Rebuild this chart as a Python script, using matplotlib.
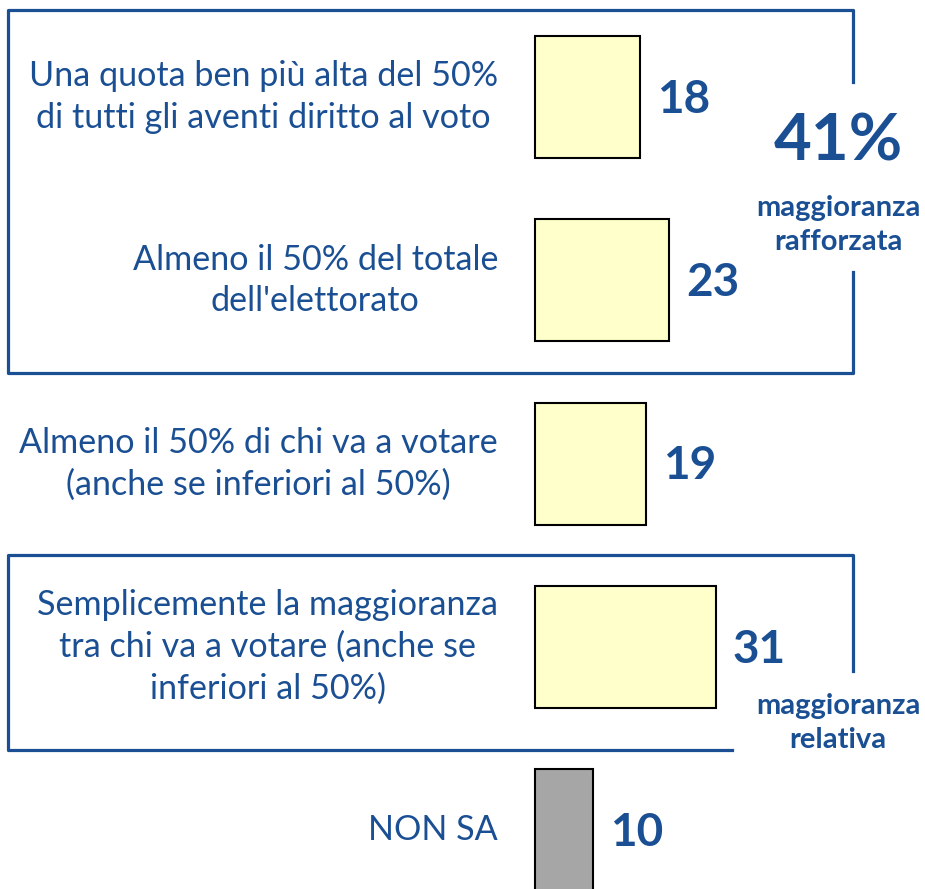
import matplotlib.pyplot as plt
from matplotlib.lines import Line2D

# dati
categorie = [
    "Una quota ben più alta del 50%\ndi tutti gli aventi diritto al voto",
    "Almeno il 50% del totale\ndell'elettorato",
    "Almeno il 50% di chi va a votare\n(anche se inferiori al 50%)",
    "Semplicemente la maggioranza\ntra chi va a votare (anche se\ninferiori al 50%)",
    "NON SA",
]
valori = [18, 23, 19, 31, 10]
colori = ["#FFFFCC", "#FFFFCC", "#FFFFCC", "#FFFFCC", "#A6A6A6"]

BLU = "#1A4F93"
plt.rcParams['font.family'] = ['Lato', 'DejaVu Sans']

W, H = 925, 889
fig = plt.figure(figsize=(W / 100, H / 100), dpi=100)

# assi principali: x=0 a 535 px, 5.83 px per unità; righe ogni 183.3 px
px_x, px_y = 5.83, 183.3
ax = fig.add_axes([0, 0, 1, 1])
ax.set_xlim(-535 / px_x, (W - 535) / px_x)
ax.set_ylim((H - 97) / px_y, -97 / px_y)
ax.axis("off")

pos = list(range(len(valori)))
ax.barh(pos, valori, height=0.665, color=colori, edgecolor="black", linewidth=1.5)

for i, (cat, v) in enumerate(zip(categorie, valori)):
    ax.text(-37 / px_x, i, cat, ha="right", va="center", ma="center",
            fontsize=24.6, color=BLU, linespacing=1.36)
    ax.text(v + 17 / px_x, i + 0.015, str(v), ha="left", va="center", fontsize=33,
            fontweight="bold", color=BLU)

# riquadri (coordinate in pixel)
ov = fig.add_axes([0, 0, 1, 1], facecolor="none")
ov.set_xlim(0, W)
ov.set_ylim(H, 0)
ov.axis("off")
lw = 2.3


def linea(xs, ys):
    ov.add_line(Line2D(xs, ys, color=BLU, linewidth=lw, solid_capstyle="projecting"))


linea([853, 853, 8, 8, 853, 853], [82, 10, 10, 373, 373, 272])
linea([732, 8, 8, 853, 853], [750, 750, 555, 555, 671])

ov.text(838, 142, f"{valori[0] + valori[1]}%", ha="center", va="center",
        fontsize=47, fontweight="bold", color=BLU)
ov.text(838, 225, "maggioranza\nrafforzata", ha="center", va="center",
        fontsize=21, fontweight="bold", color=BLU, linespacing=1.4)
ov.text(838, 723, "maggioranza\nrelativa", ha="center", va="center",
        fontsize=21, fontweight="bold", color=BLU, linespacing=1.4)

fig.savefig("out.png", dpi=100)
